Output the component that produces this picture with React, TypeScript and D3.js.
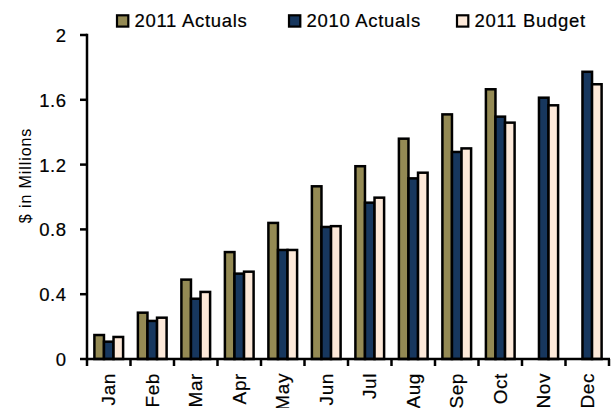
import React from "react";
import * as d3 from "d3";

const months = ["Jan","Feb","Mar","Apr","May","Jun","Jul","Aug","Sep","Oct","Nov","Dec"];
const actuals2011: (number | null)[] = [0.148, 0.286, 0.49, 0.66, 0.84, 1.066, 1.19, 1.36, 1.51, 1.665, null, null];
const actuals2010: (number | null)[] = [0.107, 0.235, 0.372, 0.527, 0.673, 0.815, 0.965, 1.115, 1.278, 1.496, 1.613, 1.773];
const budget2011: (number | null)[] = [0.136, 0.255, 0.414, 0.539, 0.673, 0.82, 0.996, 1.15, 1.30, 1.459, 1.566, 1.696];
const seriesNames = ["2011 Actuals", "2010 Actuals", "2011 Budget"];
const seriesColors = ["#948A54", "#17375E", "#FDE9D9"];
const yTicks = [0, 0.4, 0.8, 1.2, 1.6, 2];
const yTitle = "$ in Millions";

const W = 614, H = 408;
const FONT = "'Liberation Sans', Arial, sans-serif";

export default function App() {
  const series = [actuals2011, actuals2010, budget2011];
  const x = d3.scaleBand<string>().domain(months).range([87, 609]).padding(0);
  const y = d3.scaleLinear().domain([0, 2]).range([359, 35]);
  const bw = x.bandwidth() * 0.22;
  const fmt = (v: number) => String(v);
  const legendX = [117, 289, 457];

  return (
    <svg width={W} height={H} style={{ position: "absolute", left: 0, top: 0, background: "#fff" }}>
      {/* bars */}
      {months.map((m, mi) => {
        const cx = (x(m) as number) + x.bandwidth() / 2;
        return series.map((s, si) => {
          const v = s[mi];
          if (v == null) return null;
          const x0 = cx - 1.5 * bw + si * bw;
          return (
            <rect key={m + si} x={x0} y={y(v)} width={bw} height={y(0) - y(v)}
              fill={seriesColors[si]} stroke="#000" strokeWidth={2.5} />
          );
        });
      })}
      {/* y axis */}
      <line x1={87} x2={87} y1={y(2) - 1.2} y2={y(0) + 1.2} stroke="#000" strokeWidth={2.5} />
      {yTicks.map((t) => (
        <g key={t}>
          <line x1={80} x2={87} y1={y(t)} y2={y(t)} stroke="#000" strokeWidth={2.5} />
          <text x={66.5} y={y(t) + 0.5} textAnchor="end" dominantBaseline="central"
            fontFamily={FONT} fontSize={18.5} letterSpacing={0.5} fill="#000"
            stroke="#000" strokeWidth={0.2}>{fmt(t)}</text>
        </g>
      ))}
      {/* x axis */}
      <line x1={86} x2={610} y1={y(0)} y2={y(0)} stroke="#000" strokeWidth={2.5} />
      {[...months.map((m) => x(m) as number), 609].map((bx, i) => (
        <line key={i} x1={bx} x2={bx} y1={y(0)} y2={y(0) + 7} stroke="#000" strokeWidth={2.5} />
      ))}
      {months.map((m) => {
        const cx = (x(m) as number) + x.bandwidth() / 2;
        return (
          <text key={m} transform={`translate(${cx},373) rotate(-90)`} textAnchor="end"
            dominantBaseline="central" fontFamily={FONT} fontSize={19} letterSpacing={0.6} fill="#000"
            stroke="#000" strokeWidth={0.2}>{m}</text>
        );
      })}
      {/* y title */}
      <text transform="translate(25,175.5) rotate(-90)" textAnchor="middle" dominantBaseline="central"
        fontFamily={FONT} fontSize={16} letterSpacing={0.9} fill="#000">{yTitle}</text>
      {/* legend */}
      {seriesNames.map((n, i) => (
        <g key={n}>
          <rect x={legendX[i]} y={15.3} width={11.3} height={11.3} fill={seriesColors[i]} stroke="#000" strokeWidth={2.2} />
          <text x={legendX[i] + 17.5} y={27} fontFamily={FONT} fontSize={18.5} letterSpacing={0.7} fill="#000"
            stroke="#000" strokeWidth={0.2}>{n}</text>
        </g>
      ))}
    </svg>
  );
}
